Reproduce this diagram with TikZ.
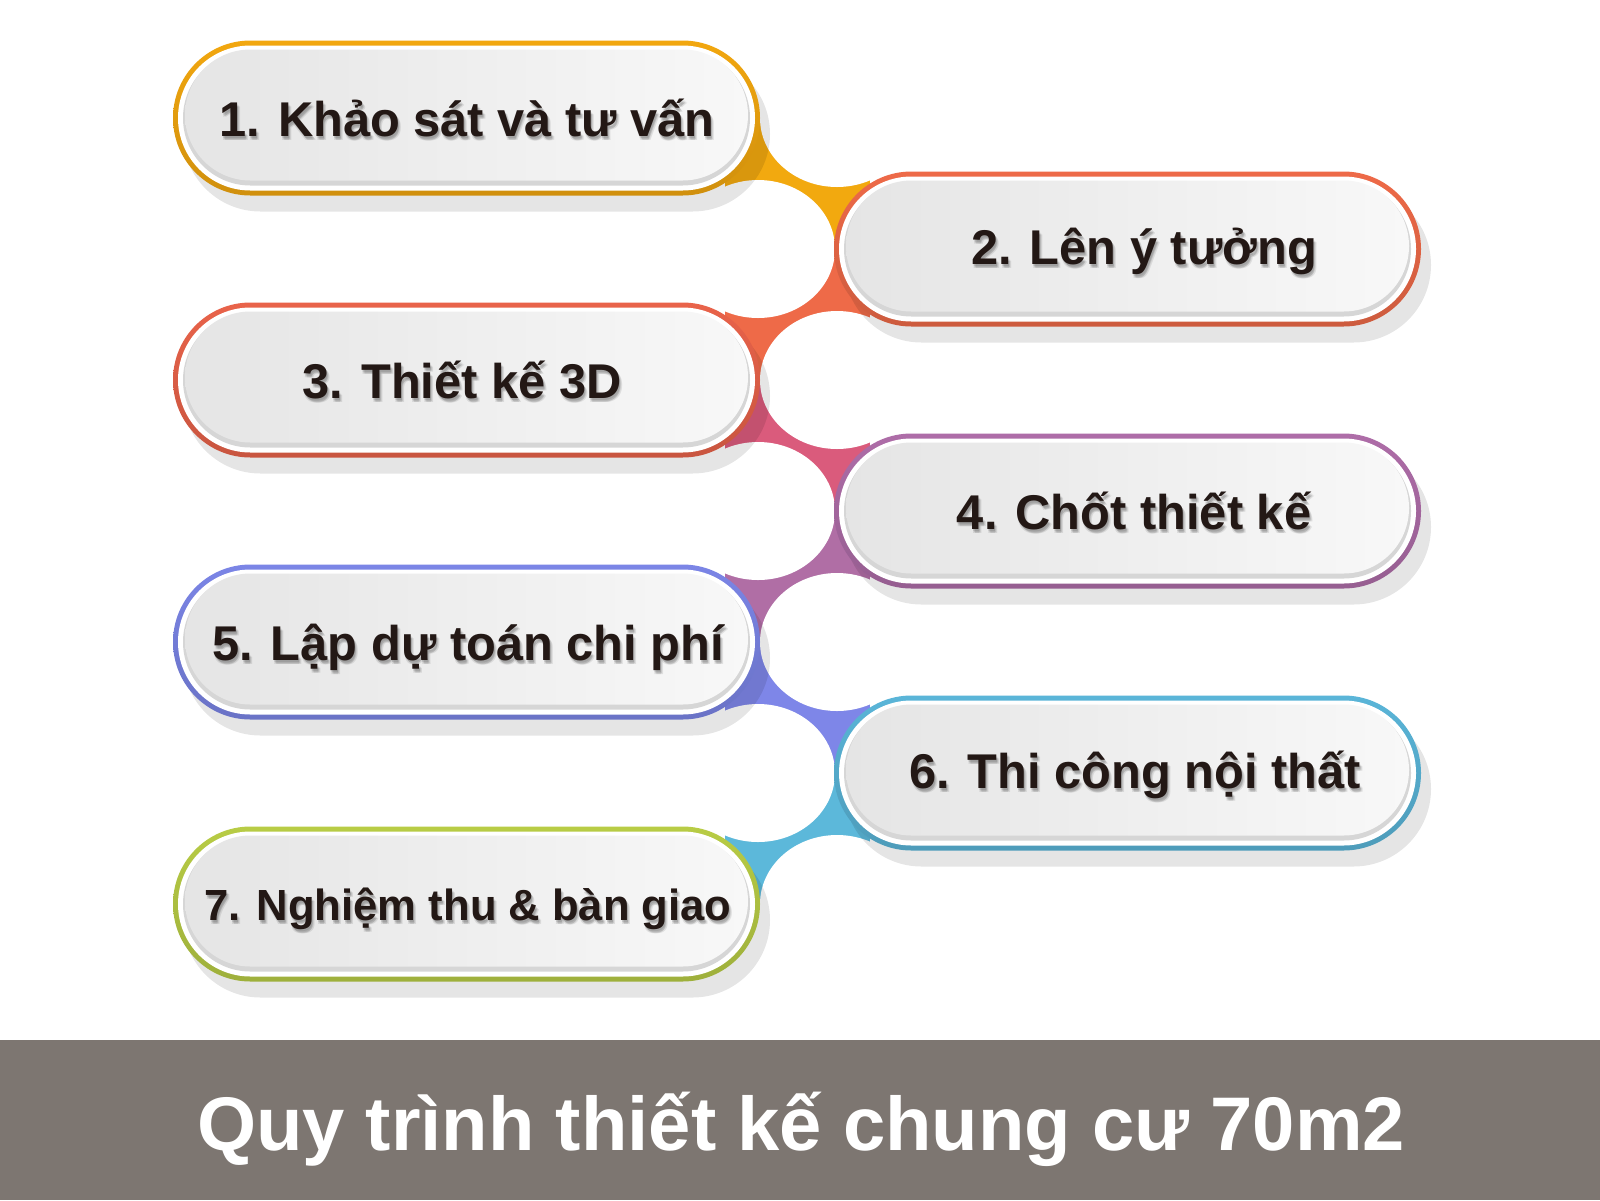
\documentclass[tikz,border=0pt]{standalone}
\usepackage{fontspec}
\setmainfont{Liberation Sans}
\definecolor{cA}{HTML}{F2A70F}
\definecolor{cB}{HTML}{EE6A48}
\definecolor{cC}{HTML}{E9634A}
\definecolor{cD}{HTML}{AE6DA8}
\definecolor{cE}{HTML}{7B85E6}
\definecolor{cF}{HTML}{5AB5D8}
\definecolor{cG}{HTML}{B8CC45}
\definecolor{bA}{HTML}{F2A90F}
\definecolor{bB}{HTML}{EE6A48}
\definecolor{bC}{HTML}{DA5B7C}
\definecolor{bD}{HTML}{B06EA5}
\definecolor{bE}{HTML}{7E86E8}
\definecolor{bF}{HTML}{5CB8DA}
\definecolor{txt}{HTML}{231815}
\definecolor{banner}{HTML}{7D7671}
\definecolor{inL}{HTML}{E5E5E5}
\definecolor{inR}{HTML}{F8F8F8}
\definecolor{inD}{HTML}{D6D6D6}
% \pl{cx}{cy}{inset}{radius in pt}{style}
\newcommand{\pl}[5]{\path[rounded corners=#4,#5] ({#1-293.5+#3},{#2-77.5+#3}) rectangle ({#1+293.5-#3},{#2+77.5-#3});}
\newcommand{\pillbox}[3]{%
  \pl{#1+10}{#2+16}{0}{38.74pt}{fill=black,fill opacity=0.1}
  \pl{#1}{#2}{0}{38.74pt}{top color=#3,bottom color=#3!86!black}
  \pl{#1}{#2}{5}{36.24pt}{fill=white}
  \pl{#1}{#2}{10}{33.74pt}{fill=inD}
  \pl{#1}{#2-3}{12}{32.74pt}{left color=inL,right color=inR}
}
\tikzset{
  pilltext/.style={anchor=base,inner sep=0pt,text=txt,font=\bfseries\fontsize{24.4}{30}\selectfont},
  pilltextsm/.style={anchor=base,inner sep=0pt,text=txt,font=\bfseries\fontsize{21.8}{26}\selectfont},
  tshadow/.style={text=black,text opacity=0.09},
  hole/.style={fill=white},
}
% \ptext{name}{x}{y}{style}{text}: soft shadow copies then the text
\newcommand{\ptext}[5]{%
  \node[#4,tshadow] (#1a) at (#2+1,#3+2) {#5};
  \node[#4,tshadow] (#1b) at (#2+2,#3+3) {#5};
  \node[#4,tshadow] (#1c) at (#2+3,#3+4) {#5};
  \node[#4,tshadow] (#1d) at (#2+1,#3+4) {#5};
  \node[#4] (#1) at (#2,#3) {#5};
}
\begin{document}
\begin{tikzpicture}[x=0.5pt,y=-0.5pt]
\useasboundingbox (0,0) rectangle (1600,1200);
\fill[white] (0,0) rectangle (1600,1200);
% connector bands
\fill[bA] (725,118) rectangle (870,249);
\fill[bB] (725,249) rectangle (870,380);
\fill[bC] (725,380) rectangle (870,511);
\fill[bD] (725,511) rectangle (870,642);
\fill[bE] (725,642) rectangle (870,773);
\fill[bF] (725,773) rectangle (870,904);
% white holes
\foreach \yy in {249,511,773} {\fill[hole] (758,\yy) ellipse [x radius=38.5pt,y radius=34.5pt];}
\foreach \yy in {118,380,642,904} {\fill[hole] (837,\yy) ellipse [x radius=38.5pt,y radius=34.5pt];}
% pills
\pillbox{466.5}{118}{cA}
\pillbox{1127.5}{249}{cB}
\pillbox{466.5}{380}{cC}
\pillbox{1127.5}{511}{cD}
\pillbox{466.5}{642}{cE}
\pillbox{1127.5}{773}{cF}
\pillbox{466.5}{904}{cG}
% texts
\ptext{t1}{467}{136}{pilltext}{1. Khảo sát và tư vấn}
\ptext{t2}{1144}{264}{pilltext}{2. Lên ý tưởng}
\ptext{t3}{462}{398}{pilltext}{3. Thiết kế 3D}
\ptext{t4}{1134}{529}{pilltext}{4. Chốt thiết kế}
\ptext{t5}{468}{660}{pilltext}{5. Lập dự toán chi phí}
\ptext{t6}{1135}{788}{pilltext}{6. Thi công nội thất}
\ptext{t7}{468}{920}{pilltextsm}{7. Nghiệm thu \& bàn giao}
% banner
\fill[banner] (0,1040) rectangle (1600,1200);
\node[anchor=base,inner sep=0pt,text=white,font=\bfseries\fontsize{38}{44}\selectfont] (title) at (801,1150) {Quy trình thiết kế chung cư 70m2};
\end{tikzpicture}
\end{document}
